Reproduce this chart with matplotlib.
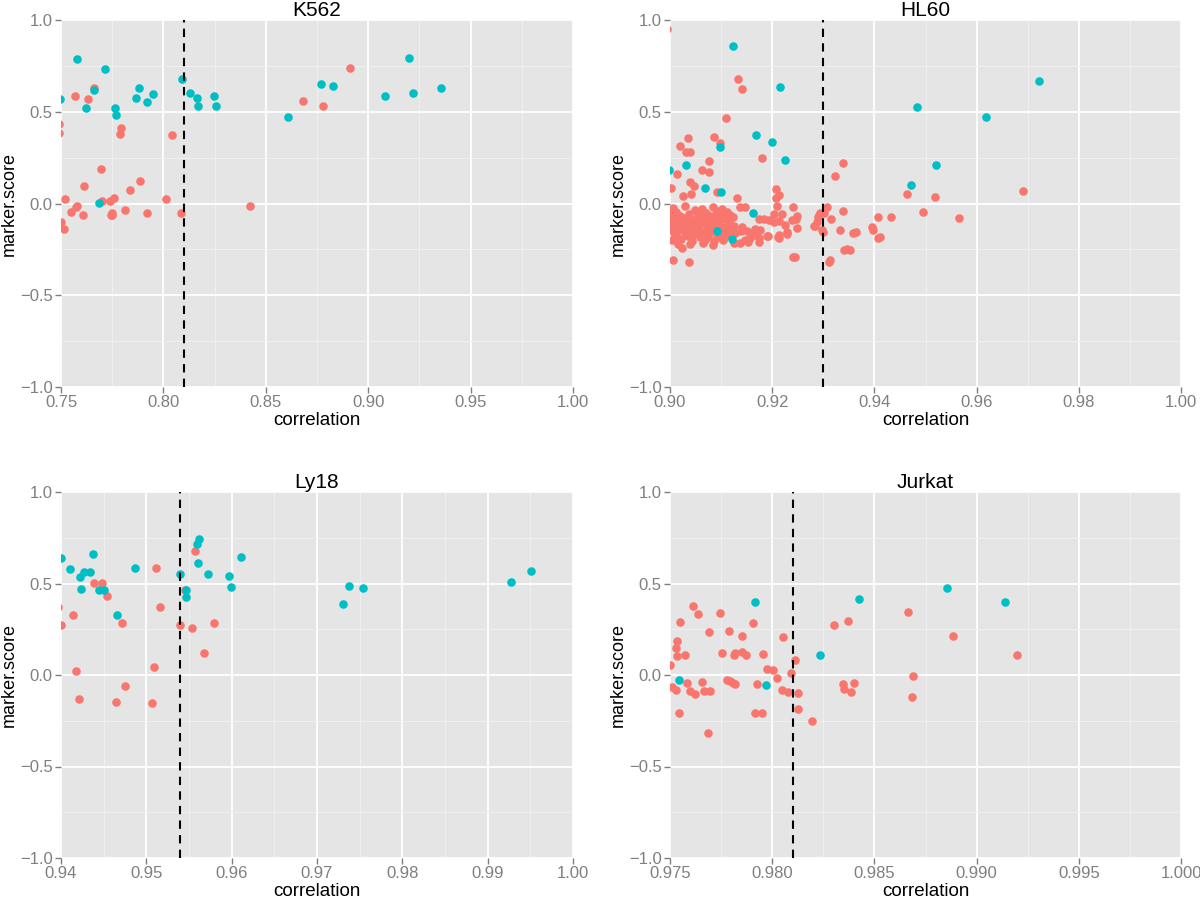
import matplotlib
matplotlib.use("Agg")
import matplotlib.pyplot as plt
from matplotlib.ticker import MultipleLocator, FuncFormatter

plt.rcParams['font.family'] = ['Liberation Sans', 'DejaVu Sans']

RED = '#F8766D'
TEAL = '#00BFC4'

# ---------------- K562 ----------------
k562_red_x = [0.749, 0.749, 0.757, 0.763, 0.766, 0.7795, 0.7788, 0.8043, 0.868, 0.878, 0.891,
              0.7694, 0.7614, 0.7884, 0.7837, 0.752, 0.8014, 0.776, 0.7739, 0.770, 0.7577,
              0.7572, 0.8423, 0.7549, 0.7607, 0.7748, 0.7744, 0.7751, 0.7811, 0.7921, 0.8086,
              0.750, 0.7515]
k562_red_y = [0.432, 0.385, 0.587, 0.570, 0.630, 0.414, 0.381, 0.376, 0.560, 0.529, 0.737,
              0.189, 0.094, 0.120, 0.071, 0.022, 0.027, 0.031, 0.016, 0.013, -0.014,
              -0.020, -0.012, -0.047, -0.064, -0.051, -0.064, -0.060, -0.038, -0.051, -0.051,
              -0.102, -0.138]
k562_teal_x = [0.7495, 0.758, 0.7716, 0.809, 0.877, 0.883, 0.861, 0.766, 0.762, 0.788, 0.7865,
               0.795, 0.792, 0.7765, 0.7767, 0.8128, 0.8166, 0.817, 0.8247, 0.8257, 0.7684,
               0.9199, 0.9083, 0.922, 0.9354]
k562_teal_y = [0.567, 0.786, 0.732, 0.677, 0.652, 0.643, 0.472, 0.621, 0.523, 0.627, 0.576,
               0.598, 0.552, 0.523, 0.480, 0.601, 0.576, 0.530, 0.587, 0.534, 0.004,
               0.793, 0.585, 0.604, 0.630]

# ---------------- HL60 ----------------
hl60_red_x = [
    0.8995, 0.9133, 0.9141, 0.9109, 0.9036, 0.9087, 0.9020, 0.9031, 0.9039, 0.9098, 0.9181,
    0.9338, 0.9077, 0.9062, 0.9014, 0.9076, 0.9323, 0.9039, 0.9047, 0.9091, 0.9025, 0.9042,
    0.9131, 0.9207, 0.9213, 0.9207, 0.9002, 0.9339,
    0.9463, 0.9519, 0.9691, 0.9496, 0.9408, 0.9433, 0.9565, 0.9395, 0.9397, 0.9359, 0.9364,
    0.9408, 0.9411, 0.9352, 0.9340, 0.9346, 0.9314, 0.9316, 0.9332, 0.9244, 0.9037, 0.9005,
    0.9023, 0.9241, 0.9311,
    0.9294, 0.9290, 0.9287, 0.9281, 0.9292, 0.9300, 0.9301, 0.9297, 0.9284, 0.9307,
    0.9240, 0.9246, 0.9249, 0.9229, 0.9211, 0.9191, 0.9226, 0.9194, 0.9175, 0.9176, 0.9169,
    0.9184, 0.9204, 0.9203, 0.9214, 0.9219, 0.9239, 0.9248, 0.9213, 0.9228, 0.9214, 0.9209,
    0.9146, 0.9137, 0.9141, 0.9125, 0.9139, 0.9159, 0.9166, 0.9174, 0.9190, 0.9124, 0.9128,
    0.9120, 0.9147, 0.9157, 0.9153, 0.9174, 0.9137, 0.9125, 0.9104, 0.9150,
    # dense cluster
    0.9005, 0.9030, 0.9062, 0.9085, 0.9101,
    0.9012, 0.9048, 0.9070, 0.9094, 0.9112,
    0.9001, 0.9020, 0.9038, 0.9055, 0.9078, 0.9090, 0.9104, 0.9118,
    0.9008, 0.9027, 0.9045, 0.9060, 0.9072, 0.9086, 0.9099, 0.9110,
    0.9003, 0.9016, 0.9033, 0.9050, 0.9066, 0.9081, 0.9095, 0.9115,
    0.9010, 0.9024, 0.9041, 0.9057, 0.9074, 0.9089, 0.9107,
    0.9001, 0.9018, 0.9036, 0.9052, 0.9069, 0.9083, 0.9100, 0.9119,
    0.9007, 0.9029, 0.9046, 0.9063, 0.9079, 0.9096, 0.9112,
    0.9013, 0.9035, 0.9058, 0.9075, 0.9092, 0.9108,
    0.9004, 0.9022, 0.9043, 0.9068, 0.9087, 0.9103,
    0.9015, 0.9040, 0.9065, 0.9085,
]
hl60_red_y = [
    0.951, 0.680, 0.624, 0.467, 0.356, 0.360, 0.311, 0.282, 0.282, 0.331, 0.249,
    0.220, 0.231, 0.185, 0.163, 0.173, 0.151, 0.115, 0.097, 0.064, 0.042, 0.050,
    0.032, 0.079, 0.046, 0.032, 0.083, -0.041,
    0.052, 0.035, 0.066, -0.048, -0.074, -0.074, -0.077, -0.130, -0.144, -0.162, -0.154,
    -0.186, -0.181, -0.253, -0.253, -0.248, -0.309, -0.084, -0.144, -0.290, -0.320, -0.307,
    -0.244, -0.291, -0.317,
    -0.054, -0.076, -0.100, -0.122, -0.063, -0.153, -0.050, -0.144, -0.121, -0.019,
    -0.017, -0.084, -0.131, -0.158, -0.180, -0.178, -0.117, -0.090, -0.087, -0.144, -0.172,
    -0.086, -0.059, -0.099, -0.095, -0.056, -0.090, -0.066, -0.172, -0.168, -0.186, -0.014,
    -0.019, -0.021, -0.130, -0.124, -0.150, -0.162, -0.139, -0.190, -0.175, -0.072, -0.163,
    -0.126, -0.199, -0.190, -0.208, -0.208, -0.217, -0.217, -0.199, -0.150,
    # dense cluster
    -0.022, -0.015, -0.028, -0.020, -0.031,
    -0.045, -0.038, -0.050, -0.042, -0.047,
    -0.062, -0.068, -0.057, -0.064, -0.070, -0.058, -0.066, -0.061,
    -0.083, -0.078, -0.088, -0.080, -0.091, -0.076, -0.085, -0.082,
    -0.101, -0.106, -0.097, -0.104, -0.099, -0.110, -0.102, -0.096,
    -0.122, -0.118, -0.127, -0.120, -0.124, -0.116, -0.128,
    -0.141, -0.146, -0.137, -0.143, -0.149, -0.140, -0.136, -0.145,
    -0.162, -0.158, -0.165, -0.160, -0.156, -0.167, -0.163,
    -0.181, -0.177, -0.185, -0.179, -0.183, -0.176,
    -0.201, -0.196, -0.205, -0.199, -0.203, -0.194,
    -0.222, -0.218, -0.215, -0.224,
]
hl60_teal_x = [0.9123, 0.9215, 0.9169, 0.9098, 0.9200, 0.9225, 0.9032, 0.8999, 0.9068, 0.9100,
               0.9163, 0.9091, 0.9122, 0.9723, 0.9483, 0.9618, 0.9521, 0.9471]
hl60_teal_y = [0.860, 0.637, 0.372, 0.307, 0.333, 0.238, 0.209, 0.180, 0.083, 0.065,
               -0.051, -0.151, -0.192, 0.669, 0.524, 0.473, 0.210, 0.099]

# ---------------- Ly18 ----------------
ly18_red_x = [0.9439, 0.9448, 0.9454, 0.9511, 0.9414, 0.9400, 0.9472, 0.9516, 0.9545, 0.9540,
              0.9554, 0.9579, 0.9568, 0.9509, 0.9417, 0.9475, 0.9421, 0.9465, 0.9507, 0.9557,
              0.9396]
ly18_red_y = [0.504, 0.501, 0.433, 0.583, 0.330, 0.275, 0.286, 0.370, 0.464, 0.275,
              0.255, 0.284, 0.118, 0.044, 0.024, -0.062, -0.129, -0.148, -0.151, 0.679,
              0.372]
ly18_teal_x = [0.9400, 0.9411, 0.9438, 0.9422, 0.9427, 0.9434, 0.9424, 0.9445, 0.9450, 0.9487,
               0.9466, 0.9540, 0.9547, 0.9547, 0.9562, 0.9559, 0.9561, 0.9572, 0.9597, 0.9599,
               0.9611, 0.9738, 0.9754, 0.9730, 0.9927, 0.9951]
ly18_teal_y = [0.641, 0.578, 0.660, 0.537, 0.561, 0.561, 0.468, 0.464, 0.464, 0.585,
               0.328, 0.552, 0.464, 0.426, 0.741, 0.716, 0.612, 0.552, 0.541, 0.479,
               0.643, 0.486, 0.474, 0.386, 0.508, 0.567]

# ---------------- Jurkat ----------------
jurkat_red_x = [0.9750, 0.97508, 0.97529, 0.97534, 0.97529, 0.97533, 0.97549, 0.97575, 0.97543,
                0.97583, 0.97598, 0.97624, 0.97655, 0.97666, 0.97696, 0.97611, 0.97638, 0.97689,
                0.97686, 0.97746, 0.97756, 0.97789, 0.97777, 0.97794, 0.97810, 0.97818, 0.97818,
                0.97815, 0.97851, 0.97854, 0.97873, 0.97906, 0.97954, 0.97927, 0.97914, 0.97952,
                0.97973, 0.98004, 0.98022, 0.98053, 0.98049, 0.98077, 0.98092, 0.98110, 0.98125,
                0.98125, 0.98193, 0.98304, 0.98369, 0.98345, 0.98351, 0.98386, 0.98402, 0.98666,
                0.98885, 0.99196, 0.98689, 0.98684]
jurkat_red_y = [0.055, -0.064, -0.082, 0.186, 0.148, 0.104, 0.291, 0.109, -0.209,
                -0.046, -0.087, -0.104, -0.040, -0.086, -0.087, 0.379, 0.331, 0.237,
                -0.317, 0.341, 0.120, 0.242, -0.027, -0.033, -0.045, -0.049, 0.122,
                0.111, 0.215, 0.124, 0.109, 0.286, 0.115, -0.048, -0.206, -0.209,
                0.033, 0.027, -0.015, 0.209, -0.084, -0.095, 0.009, 0.080, -0.097,
                -0.186, -0.251, 0.271, 0.293, -0.049, -0.077, -0.091, -0.042, 0.343,
                0.215, 0.107, -0.007, -0.118]
jurkat_teal_x = [0.97545, 0.97914, 0.97968, 0.98234, 0.98423, 0.98857, 0.99140]
jurkat_teal_y = [-0.027, 0.399, -0.055, 0.107, 0.417, 0.475, 0.399]

titles = ['K562', 'HL60', 'Ly18', 'Jurkat']
x_limits = [(0.75, 1.00), (0.90, 1.00), (0.94, 1.00), (0.975, 1.000)]
x_steps = [0.05, 0.02, 0.01, 0.005]
x_decimals = [2, 2, 2, 3]
thresholds = [0.81, 0.93, 0.954, 0.981]
red_x = [k562_red_x, hl60_red_x, ly18_red_x, jurkat_red_x]
red_y = [k562_red_y, hl60_red_y, ly18_red_y, jurkat_red_y]
teal_x = [k562_teal_x, hl60_teal_x, ly18_teal_x, jurkat_teal_x]
teal_y = [k562_teal_y, hl60_teal_y, ly18_teal_y, jurkat_teal_y]

W, H = 1200, 899
fig = plt.figure(figsize=(W / 100, H / 100), dpi=100)

boxes = [(61, 20, 573, 387), (670, 20, 1181, 387), (61, 492, 573, 858), (670, 492, 1181, 858)]

for i in range(4):
    l, t, r, b = boxes[i]
    ax = fig.add_axes([l / W, 1 - b / H, (r - l) / W, (b - t) / H])
    ax.set_facecolor('#E5E5E5')
    for s in ax.spines.values():
        s.set_visible(False)
    ax.set_xlim(*x_limits[i])
    ax.set_ylim(-1.0, 1.0)
    ax.xaxis.set_major_locator(MultipleLocator(x_steps[i]))
    ax.xaxis.set_minor_locator(MultipleLocator(x_steps[i] / 2))
    ax.yaxis.set_major_locator(MultipleLocator(0.5))
    ax.yaxis.set_minor_locator(MultipleLocator(0.25))
    d = x_decimals[i]
    ax.xaxis.set_major_formatter(FuncFormatter(lambda v, p, d=d: f"{v:.{d}f}"))
    ax.yaxis.set_major_formatter(FuncFormatter(lambda v, p: f"{v:.1f}".replace('-', '\u2212')))
    ax.grid(which='major', color='white', lw=1.3)
    ax.grid(which='minor', color='#F2F2F2', lw=0.6)
    ax.set_axisbelow(True)
    ax.tick_params(which='major', length=4, width=1, color='#7F7F7F',
                   labelcolor='#7F7F7F', labelsize=12, pad=2)
    ax.tick_params(which='minor', length=0)
    ax.scatter(red_x[i], red_y[i], s=38, color=RED, linewidths=0, zorder=3)
    ax.scatter(teal_x[i], teal_y[i], s=38, color=TEAL, linewidths=0, zorder=3)
    ax.axvline(thresholds[i], color='black', ls=(0, (4, 3)), lw=1.5, zorder=4)
    ax.set_title(titles[i], fontsize=15, pad=3)
    ax.set_xlabel('correlation', fontsize=13.5, labelpad=1)
    ax.set_ylabel('marker.score', fontsize=13, labelpad=1.5)

fig.savefig('out.png', dpi=100)
